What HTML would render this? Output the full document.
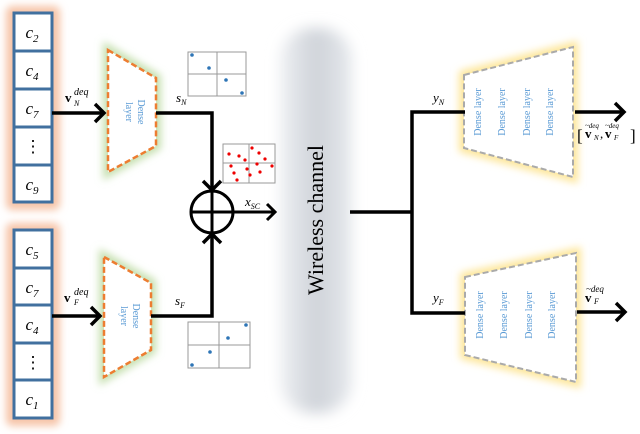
<!DOCTYPE html><html><head><style>body{margin:0;background:#fff}svg{display:block}text{font-family:"Liberation Serif",serif}</style></head><body>
<svg width="640" height="434" viewBox="0 0 640 434" xmlns="http://www.w3.org/2000/svg">
<defs>
<filter id="b" x="-30%" y="-30%" width="160%" height="160%"><feGaussianBlur stdDeviation="4"/></filter>
<filter id="b2" x="-50%" y="-10%" width="200%" height="120%"><feGaussianBlur stdDeviation="7"/></filter>
<linearGradient id="wg" x1="0" x2="1"><stop offset="0" stop-color="#eef0f3"/><stop offset="0.5" stop-color="#cfd3d9"/><stop offset="1" stop-color="#e6e9ed"/></linearGradient>
</defs>
<rect x="6" y="6" width="54" height="204" rx="6" fill="#f6c4a8" filter="url(#b)"/>
<rect x="6" y="223" width="54" height="203" rx="6" fill="#f6c4a8" filter="url(#b)"/>
<polygon points="108,50 156,78 156,146 108,172" fill="#c6e0b0" stroke="#c6e0b0" stroke-width="10" filter="url(#b)"/>
<polygon points="104,257 151,283 151,350 104,377" fill="#c6e0b0" stroke="#c6e0b0" stroke-width="10" filter="url(#b)"/>
<polygon points="464,75 573,47 573,177 464,148" fill="#fde69a" stroke="#fde69a" stroke-width="10" filter="url(#b)"/>
<polygon points="465,277 576,253 576,382 465,355" fill="#fde69a" stroke="#fde69a" stroke-width="10" filter="url(#b)"/>
<rect x="280" y="28" width="72" height="385" rx="32" fill="url(#wg)" filter="url(#b2)"/>
<g fill="#fff" stroke="#41709f" stroke-width="3">
<rect x="14" y="13" width="38" height="38"/><rect x="14" y="51" width="38" height="38"/><rect x="14" y="89" width="38" height="38"/><rect x="14" y="127" width="38" height="38"/><rect x="14" y="165" width="38" height="37"/>
<rect x="14" y="230" width="38" height="38"/><rect x="14" y="268" width="38" height="37"/><rect x="14" y="305" width="38" height="38"/><rect x="14" y="343" width="38" height="37"/><rect x="14" y="380" width="38" height="38"/>
</g>
<g font-size="17" font-style="italic" text-anchor="middle">
<text x="32" y="38">c<tspan font-size="11" dy="4">2</tspan></text>
<text x="32" y="76">c<tspan font-size="11" dy="4">4</tspan></text>
<text x="32" y="114">c<tspan font-size="11" dy="4">7</tspan></text>
<text x="33" y="152" font-style="normal">⋮</text>
<text x="32" y="190">c<tspan font-size="11" dy="4">9</tspan></text>
<text x="32" y="255">c<tspan font-size="11" dy="4">5</tspan></text>
<text x="32" y="293">c<tspan font-size="11" dy="4">7</tspan></text>
<text x="32" y="330">c<tspan font-size="11" dy="4">4</tspan></text>
<text x="33" y="368" font-style="normal">⋮</text>
<text x="32" y="405">c<tspan font-size="11" dy="4">1</tspan></text>
</g>
<polygon points="108,50 156,78 156,146 108,172" fill="#fff" stroke="#ed7d31" stroke-width="2.5" stroke-dasharray="6,3"/>
<polygon points="104,257 151,283 151,350 104,377" fill="#fff" stroke="#ed7d31" stroke-width="2.5" stroke-dasharray="6,3"/>
<polygon points="464,75 573,47 573,177 464,148" fill="#fff" stroke="#aaa" stroke-width="2" stroke-dasharray="6,3"/>
<polygon points="465,277 576,253 576,382 465,355" fill="#fff" stroke="#aaa" stroke-width="2" stroke-dasharray="6,3"/>
<g fill="#5b9bd5" font-size="10" text-anchor="middle">
<text transform="translate(138,112) rotate(90)">Dense</text><text transform="translate(126,112) rotate(90)">layer</text>
<text transform="translate(133,316) rotate(90)">Dense</text><text transform="translate(121,316) rotate(90)">layer</text>
<text transform="translate(481,112) rotate(-90)">Dense layer</text><text transform="translate(505,112) rotate(-90)">Dense layer</text><text transform="translate(530,112) rotate(-90)">Dense layer</text><text transform="translate(553,112) rotate(-90)">Dense layer</text>
<text transform="translate(483,315) rotate(-90)">Dense layer</text><text transform="translate(507,315) rotate(-90)">Dense layer</text><text transform="translate(532,315) rotate(-90)">Dense layer</text><text transform="translate(555,315) rotate(-90)">Dense layer</text>
</g>
<g stroke="#000" stroke-width="3.5" fill="none">
<line x1="52" y1="113" x2="104" y2="113"/><polyline points="95,104 104,113 95,122"/>
<line x1="52" y1="316" x2="100" y2="316"/><polyline points="91,307 100,316 91,325"/>
<polyline points="156,113 212,113 212,190"/><polyline points="203,181 212,190 221,181"/>
<polyline points="151,316 212,316 212,234"/><polyline points="203,243 212,234 221,243"/>
<circle cx="212" cy="212" r="21" stroke-width="3"/>
<line x1="191" y1="212" x2="233" y2="212" stroke-width="3"/><line x1="212" y1="191" x2="212" y2="233" stroke-width="3"/>
<line x1="233" y1="212" x2="275" y2="212" stroke-width="3"/><polyline points="267,204 275,212 267,220" stroke-width="3"/>
<line x1="350" y1="212" x2="412" y2="212"/>
<polyline points="465,112 412,112 412,313 465,313"/>
<line x1="575" y1="112" x2="624" y2="112"/><polyline points="615,103 624,112 615,121"/>
<line x1="577" y1="312" x2="625" y2="312"/><polyline points="616,303 625,312 616,321"/>
</g>
<g stroke="#999" stroke-width="1" fill="#fff">
<rect x="188" y="52" width="58" height="44"/><line x1="217" y1="52" x2="217" y2="96"/><line x1="188" y1="74" x2="246" y2="74"/>
<rect x="223" y="144" width="52" height="39"/><line x1="249" y1="144" x2="249" y2="183"/><line x1="223" y1="163" x2="275" y2="163"/>
<rect x="188" y="322" width="62" height="46"/><line x1="219" y1="322" x2="219" y2="368"/><line x1="188" y1="345" x2="250" y2="345"/>
</g>
<g fill="#2e75b6"><circle cx="192" cy="55" r="1.8"/><circle cx="209" cy="68" r="1.8"/><circle cx="226" cy="80" r="1.8"/><circle cx="242" cy="93" r="1.8"/>
<circle cx="192" cy="365" r="1.8"/><circle cx="210" cy="352" r="1.8"/><circle cx="228" cy="338" r="1.8"/><circle cx="246" cy="325" r="1.8"/></g>
<g fill="#e00"><circle cx="229" cy="154" r="1.6"/><circle cx="239" cy="156" r="1.6"/><circle cx="252" cy="148" r="1.6"/><circle cx="259" cy="153" r="1.6"/><circle cx="265" cy="159" r="1.6"/><circle cx="231" cy="166" r="1.6"/><circle cx="234" cy="173" r="1.6"/><circle cx="237" cy="180" r="1.6"/><circle cx="247" cy="169" r="1.6"/><circle cx="250" cy="175" r="1.6"/><circle cx="257" cy="164" r="1.6"/><circle cx="260" cy="172" r="1.6"/><circle cx="272" cy="166" r="1.6"/><circle cx="245" cy="160" r="1.6"/></g>
<g font-size="13">
<text x="65" y="102" font-weight="bold">v</text><text x="74" y="95" font-size="10" font-style="italic">deq</text><text x="74" y="106" font-size="8" font-style="italic">N</text>
<text x="64" y="302" font-weight="bold">v</text><text x="74" y="295" font-size="10" font-style="italic">deq</text><text x="74" y="305" font-size="8" font-style="italic">F</text>
<text x="176" y="102" font-style="italic">s<tspan font-size="8" dy="3">N</tspan></text>
<text x="175" y="305" font-style="italic">s<tspan font-size="8" dy="3">F</tspan></text>
<text x="245" y="206" font-style="italic">x<tspan font-size="8" dy="3">SC</tspan></text>
<text x="433" y="102" font-style="italic">y<tspan font-size="8" dy="3">N</tspan></text>
<text x="433" y="302" font-style="italic">y<tspan font-size="8" dy="3">F</tspan></text>
<text x="577" y="141" font-size="17">[</text><text x="585" y="138" font-weight="bold">v</text><text x="594" y="140" font-size="7" font-style="italic">N</text><text x="600" y="138">,</text><text x="605" y="138" font-weight="bold">v</text><text x="614" y="140" font-size="7" font-style="italic">F</text><text x="630" y="141" font-size="17">]</text>
<text x="585" y="128" font-size="7" font-style="italic">~deq</text><text x="605" y="128" font-size="7" font-style="italic">~deq</text>
<text x="585" y="302" font-weight="bold">v</text><text x="594" y="304" font-size="8" font-style="italic">F</text><text x="586" y="292" font-size="9" font-style="italic">~deq</text>
</g>
<text transform="translate(323,220) rotate(-90)" font-size="22" text-anchor="middle">Wireless channel</text>
</svg></body></html>
